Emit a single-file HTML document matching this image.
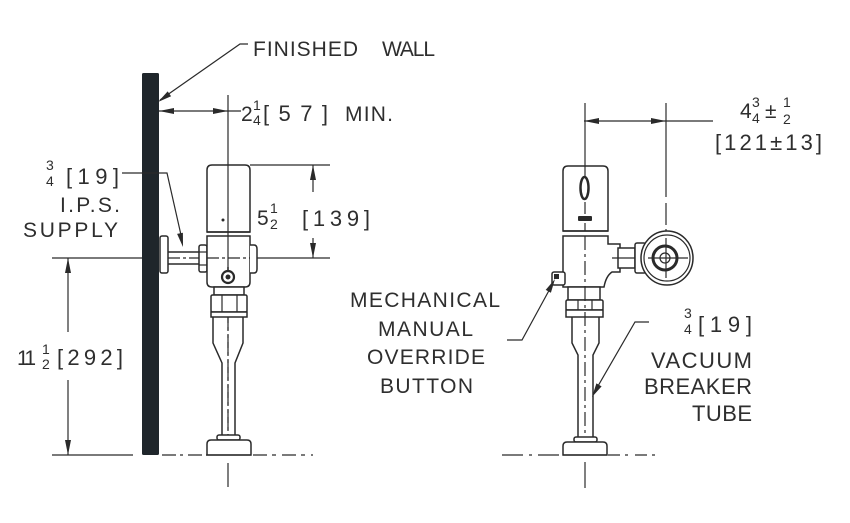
<!DOCTYPE html>
<html><head><meta charset="utf-8"><style>
html,body{margin:0;padding:0;background:#fff;}
svg{display:block;}
text{font-family:"Liberation Sans",sans-serif;fill:#2e2e2e;font-size:21px;}
.s{font-size:14px;}
.b{font-size:22px;}
.l{fill:none;stroke:#2a2a2a;stroke-width:1.5;}
.t{fill:none;stroke:#2a2a2a;stroke-width:1.2;}
.w{fill:#fff;stroke:#2a2a2a;stroke-width:1.5;}
.c{fill:none;stroke:#2a2a2a;stroke-width:1.2;stroke-dasharray:14,4,3,4;}
.a{fill:#2a2a2a;stroke:none;}
</style></head><body>
<svg width="850" height="523" viewBox="0 0 850 523" xmlns="http://www.w3.org/2000/svg">
<rect width="850" height="523" fill="#fff"/>

<!-- ===== LEFT FIGURE ===== -->
<rect x="142" y="73" width="17" height="382" rx="1.5" fill="#1f262b"/>

<polyline class="t" points="160,100 240,44 248,44"/>
<polygon class="a" points="158,102 171.1,96.3 167.7,91.4"/>
<text x="253" y="56" textLength="105">FINISHED</text>
<text x="382" y="56" textLength="53">WALL</text>

<!-- 2 1/4 dim -->
<line class="t" x1="159" y1="111" x2="241" y2="111"/>
<polygon class="a" points="159,111 174,108 174,114"/>
<polygon class="a" points="228,111 213,108 213,114"/>
<text x="241" y="121">2</text>
<text class="s" x="253" y="110">1</text>
<text class="s" x="253" y="125">4</text>
<text class="b" x="263" y="121" textLength="65">[57]</text>
<text x="345" y="121" textLength="48">MIN.</text>

<line class="t" x1="228" y1="95" x2="228" y2="272"/>
<line class="c" x1="228" y1="284" x2="228" y2="455"/>
<line class="t" x1="228" y1="463" x2="228" y2="487"/>

<!-- 3/4 I.P.S. supply -->
<text class="s" x="46" y="170">3</text>
<text class="s" x="46" y="186">4</text>
<text class="b" x="66" y="184" textLength="53">[19]</text>
<text x="60" y="212" textLength="60">I.P.S.</text>
<text x="23" y="237" textLength="95">SUPPLY</text>
<polyline class="t" points="122,173 167,173 181,235"/>
<polygon class="a" points="183,247 182.9,232.7 177.1,233.9"/>

<line class="t" x1="52" y1="258" x2="142" y2="258"/>
<line class="t" x1="257" y1="258" x2="330" y2="258"/>
<line class="t" x1="168" y1="258" x2="257" y2="258" stroke-dasharray="12,3,3,3"/>

<rect class="w" x="160" y="236" width="8" height="37" rx="2"/>
<line class="l" x1="168" y1="252" x2="199" y2="252"/>
<line class="l" x1="168" y1="264" x2="199" y2="264"/>
<rect class="w" x="199" y="245" width="8" height="27" rx="2"/>
<line class="t" x1="199" y1="252" x2="207" y2="252"/>
<line class="t" x1="199" y1="265" x2="207" y2="265"/>

<path class="w" d="M207,232 V170 Q207,165 212,165 H245 Q250,165 250,170 V232 Z"/>
<line x1="228" y1="165" x2="228" y2="232" class="t"/>
<line class="l" x1="207" y1="232" x2="250" y2="232" stroke-width="2.2"/>
<circle cx="223" cy="220" r="1.5" class="a"/>
<path class="w" d="M207,236 V282 Q207,287 212,287 H245 Q250,287 250,282 V236 Z"/>
<line class="t" x1="228" y1="236" x2="228" y2="270"/>
<line class="t" x1="207" y1="258" x2="250" y2="258" stroke-dasharray="12,3,3,3"/>
<path class="w" d="M250,245 H254 Q257,245 257,249 V269 Q257,273 254,273 H250"/>
<circle cx="228" cy="277" r="6" fill="#fff" stroke="#2a2a2a" stroke-width="2.2"/>
<circle cx="228" cy="277" r="2.5" class="a"/>
<line class="l" x1="228" y1="267" x2="228" y2="271"/>

<rect class="w" x="214" y="287" width="30" height="8"/>
<rect class="w" x="211" y="295" width="36" height="17" rx="1.5"/>
<line class="t" x1="222" y1="295" x2="222" y2="312"/>
<line class="t" x1="237" y1="295" x2="237" y2="312"/>
<rect class="w" x="211" y="312" width="36" height="5"/>
<path class="l" d="M213,317 V343 L222,363 V435 M243,317 V343 L235,363 V435"/>
<line class="c" x1="228" y1="317" x2="228" y2="435"/>
<rect class="w" x="217" y="435" width="23" height="5" rx="2"/>
<path class="w" d="M207,455 V444 Q207,440 211,440 H247 Q251,440 251,444 V455 Z"/>

<line class="t" x1="52" y1="455" x2="133" y2="455"/>
<line class="t" x1="162" y1="455" x2="207" y2="455" stroke-dasharray="14,4,3,5"/>
<line class="t" x1="253" y1="455" x2="313" y2="455" stroke-dasharray="14,5,4,6"/>
<line class="t" x1="207" y1="455" x2="251" y2="455"/>

<!-- 11 1/2 dim -->
<line class="t" x1="68" y1="258" x2="68" y2="332"/>
<line class="t" x1="68" y1="380" x2="68" y2="455"/>
<polygon class="a" points="68,258 65,273 71,273"/>
<polygon class="a" points="68,455 65,440 71,440"/>
<text x="17" y="365" textLength="19">11</text>
<text class="s" x="42" y="354">1</text>
<text class="s" x="42" y="369">2</text>
<text class="b" x="57" y="365" textLength="66">[292]</text>

<!-- 5 1/2 dim -->
<line class="t" x1="250" y1="165" x2="330" y2="165"/>
<line class="t" x1="313" y1="165" x2="313" y2="192"/>
<line class="t" x1="313" y1="238" x2="313" y2="258"/>
<polygon class="a" points="313,165 310,180 316,180"/>
<polygon class="a" points="313,258 310,243 316,243"/>
<text x="257" y="225">5</text>
<text class="s" x="270" y="213">1</text>
<text class="s" x="270" y="229">2</text>
<text class="b" x="302" y="226" textLength="68">[139]</text>

<!-- ===== RIGHT FIGURE ===== -->
<line class="t" x1="584" y1="121" x2="713" y2="121"/>
<polygon class="a" points="584,121 599,118 599,124"/>
<polygon class="a" points="666,121 651,118 651,124"/>
<line class="t" x1="585" y1="103" x2="585" y2="166"/>
<line class="t" x1="666" y1="103" x2="666" y2="197"/>
<line class="t" x1="666" y1="203" x2="666" y2="225"/>
<line class="t" x1="666" y1="229" x2="666" y2="233"/>
<text x="740" y="118">4</text>
<text class="s" x="752" y="107">3</text>
<text class="s" x="752" y="123">4</text>
<text x="765" y="118">±</text>
<text class="s" x="783" y="107">1</text>
<text class="s" x="783" y="124">2</text>
<text class="b" x="715" y="150" textLength="107">[121±13]</text>

<path class="w" d="M563,231 V171 Q563,166 568,166 H603 Q608,166 608,171 V231 Z"/>
<line class="t" x1="585" y1="166" x2="585" y2="176"/>
<line class="t" x1="585" y1="202" x2="585" y2="214"/>
<line class="t" x1="585" y1="223" x2="585" y2="231"/>
<ellipse cx="584.5" cy="188" rx="4" ry="11" fill="#fff" stroke="#2a2a2a" stroke-width="2.5"/>
<rect x="578" y="216" width="14" height="5" rx="1" class="a"/>
<line class="l" x1="563" y1="231" x2="608" y2="231" stroke-width="2.2"/>

<path class="w" d="M563,236 V287 H604 Q606,276 612,272 H620 V244 H608 V236 Z"/>
<line class="c" x1="585" y1="236" x2="585" y2="287"/>
<rect class="w" x="618" y="248" width="17" height="20"/>
<line class="t" x1="612" y1="258" x2="692" y2="258"/>
<rect class="w" x="635" y="243" width="11" height="30" rx="2"/>
<line class="l" x1="646" y1="245" x2="646" y2="271" stroke-width="2.5"/>
<ellipse cx="667" cy="258" rx="26" ry="27" class="w"/>
<circle cx="667" cy="258" r="23" class="t"/>
<circle cx="665" cy="258" r="12" fill="#fff" stroke="#2a2a2a" stroke-width="3"/>
<circle cx="665" cy="258" r="5" class="t"/>
<line class="t" x1="648" y1="258" x2="688" y2="258"/>
<line class="t" x1="666" y1="238" x2="666" y2="278"/>

<rect class="w" x="552" y="272" width="13" height="13" rx="2"/>
<rect x="554" y="274" width="5" height="5" class="a"/>
<polyline class="t" points="552,285 522,340 507,340"/>
<polygon class="a" points="555,279 550.9,292.7 545.7,289.9"/>

<rect class="w" x="568" y="287" width="32" height="13"/>
<rect class="w" x="566" y="300" width="37" height="10" rx="1.5"/>
<line class="t" x1="578" y1="300" x2="578" y2="310"/>
<line class="t" x1="592" y1="300" x2="592" y2="310"/>
<rect class="w" x="566" y="310" width="37" height="7"/>
<path class="l" d="M572,317 V343 L578,355 V437 M599,317 V343 L593,355 V437"/>
<line class="c" x1="585" y1="287" x2="585" y2="455"/>
<rect class="w" x="574" y="437" width="23" height="5" rx="2"/>
<path class="w" d="M563,455 V446 Q563,442 567,442 H603 Q607,442 607,446 V455 Z"/>
<line class="t" x1="585" y1="462" x2="585" y2="488"/>

<line class="t" x1="502" y1="455" x2="563" y2="455" stroke-dasharray="21,6,3,6"/>
<line class="t" x1="563" y1="455" x2="607" y2="455"/>
<line class="t" x1="608" y1="455" x2="655" y2="455" stroke-dasharray="12,5,3,7"/>

<polyline class="t" points="649,322 635,322 598,386"/>
<polygon class="a" points="592,397 601.6,386.4 596.4,383.4"/>

<text x="350" y="307" textLength="150">MECHANICAL</text>
<text x="378" y="336" textLength="95">MANUAL</text>
<text x="367" y="364" textLength="118">OVERRIDE</text>
<text x="380" y="393" textLength="93">BUTTON</text>

<text class="s" x="684" y="318">3</text>
<text class="s" x="684" y="334">4</text>
<text class="b" x="698" y="332" textLength="54">[19]</text>
<text x="651" y="368" textLength="101" style="font-size:22px">VACUUM</text>
<text x="644" y="394" textLength="108" style="font-size:22px">BREAKER</text>
<text x="692" y="421" textLength="60" style="font-size:22px">TUBE</text>
</svg>
</body></html>
